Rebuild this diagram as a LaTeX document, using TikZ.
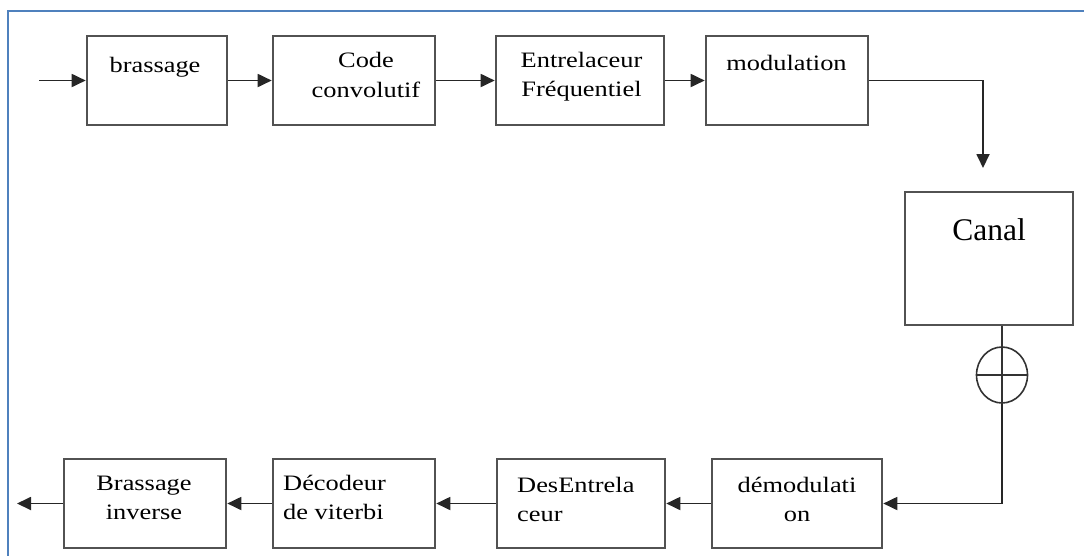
\documentclass[tikz,border=0pt]{standalone}
\usepackage{fontspec}
\setmainfont{Liberation Serif}
\newfontfamily\boxfont[FakeStretch=1.2]{Liberation Serif}
\usetikzlibrary{arrows.meta,shapes.geometric}
\definecolor{frameblue}{RGB}{79,129,189}
\begin{document}
\begin{tikzpicture}[x=1pt,y=-1pt,
  blk/.style={draw=black!68, line width=2.6pt, inner sep=0pt, minimum height=89pt},
  conn/.style={draw=black!85, line width=1.8pt, -{Triangle[length=14pt,width=13pt]}},
  plain/.style={draw=black!80, line width=1.8pt},
  txt/.style={font=\boxfont\fontsize{22}{29.5}\selectfont, inner sep=0pt, align=center, anchor=north},
  txtl/.style={font=\boxfont\fontsize{22}{29.5}\selectfont, inner sep=0pt, align=left, anchor=north west}]
\useasboundingbox (0,0) rectangle (1084,555);
% frame
\draw[frameblue, line width=2.5pt] (8,556) -- (8,11) -- (1085,11);
% top row
\node[blk, minimum width=140pt] (b1) at (157,80.5) {};
\node[blk, minimum width=162pt] (b2) at (354,80.5) {};
\node[blk, minimum width=168pt] (b3) at (580,80.5) {};
\node[blk, minimum width=162pt] (b4) at (787,80.5) {};
\node[txt] (t1) at (155,57) {brassage};
\node[txt] (t2) at (366,52.3) {Code\\convolutif};
\node[txt] (t3) at (581.5,51.7) {Entrelaceur\\Fréquentiel};
\node[txt] (t4) at (786.5,55) {modulation};
% canal
\node[blk, minimum width=168pt, minimum height=133pt] (canal) at (989,258.5) {};
\node[inner sep=0pt, anchor=north, font=\fontsize{31.5}{36}\selectfont] (tc) at (989,218.5) {Canal};
% adder
\node[draw=black!80, line width=1.6pt, ellipse, inner sep=0pt, minimum width=51pt, minimum height=56pt] (sum) at (1002,375) {};
% bottom row
\node[blk, minimum width=162pt] (c1) at (145,503.5) {};
\node[blk, minimum width=162pt] (c2) at (354,503.5) {};
\node[blk, minimum width=168pt] (c3) at (581,503.5) {};
\node[blk, minimum width=170pt] (c4) at (797,503.5) {};
\node[txt] (s1) at (144,475.4) {Brassage\\inverse};
\node[txtl] (s2) at (283,474.8) {Décodeur\\de viterbi};
\node[txtl] (s3) at (517,476.7) {DesEntrela\\ceur};
\node[txt] (s4) at (797,476.5) {démodulati\\on};
% connectors
\coordinate (in) at (39,80.5);
\coordinate (cin) at (983,168);
\coordinate (out) at (17,503.5);
\draw[conn] (in) -- (b1.west);
\draw[conn] (b1.east) -- (b2.west);
\draw[conn] (b2.east) -- (b3.west);
\draw[conn] (b3.east) -- (b4.west);
\draw[conn] (b4.east) -| (cin);
\draw[plain] (sum.north |- canal.south) -- (sum.south);
\draw[plain] (sum.west) -- (sum.east);
\draw[conn] (sum.south) |- (c4.east);
\draw[conn] (c4.west) -- (c3.east);
\draw[conn] (c3.west) -- (c2.east);
\draw[conn] (c2.west) -- (c1.east);
\draw[conn] (c1.west) -- (out);
\end{tikzpicture}
\end{document}
